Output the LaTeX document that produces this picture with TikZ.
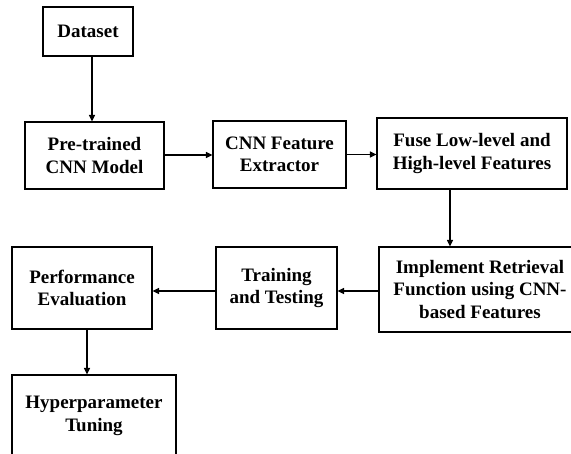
\documentclass[tikz,border=0pt]{standalone}
\usepackage{fontspec}
\setmainfont{Liberation Serif}
\usepackage{tikz}
\usetikzlibrary{arrows.meta}

\begin{document}
\begin{tikzpicture}[
      x=1pt, y=-1pt,
      mybox/.style={
         rectangle,
         draw=black,
         line width=1.2pt,
         fill=white,
         align=center,
         inner sep=0pt,
         font=\fontsize{19}{22.5}\selectfont\bfseries},
      myarrow/.style={-{Triangle[length=6.5pt,width=6pt]}, line width=1.2pt}
      ]
      \useasboundingbox (0,0) rectangle (571,454);

      \node[mybox, minimum width=90pt,  minimum height=49pt] at (88, 31.5) (data) {Dataset};
      \node[mybox, minimum width=139pt, minimum height=67pt] at (94.5, 155.5) (pre) {Pre-trained\\CNN Model};
      \node[mybox, minimum width=133pt, minimum height=67pt] at (279.5, 154.5) (cnn) {CNN Feature\\Extractor};
      \node[mybox, minimum width=190pt, minimum height=71pt] at (472, 153.5) (fuse) {Fuse Low-level and\\High-level Features};
      \node[mybox, minimum width=202pt, minimum height=85pt] at (480, 289.5) (impl) {Implement Retrieval\\Function using CNN-\\based Features};
      \node[mybox, minimum width=121pt, minimum height=82pt] at (276.5, 288) (train) {Training\\and Testing};
      \node[mybox, minimum width=140pt, minimum height=82pt] at (82, 288) (perf) {Performance\\Evaluation};
      \node[mybox, minimum width=164pt, minimum height=82pt] at (94, 416) (hyper) {Hyperparameter\\Tuning};

    % horizontal arrows: start/end/vertical shift
    \foreach \i/\j/\dy in {pre.east/cnn.west/0.5, cnn.east/fuse.west/0,
                       impl.west/train.east/-1.5, train.west/perf.east/-3}
       \draw [myarrow] ([yshift=\dy]\i) -- ([yshift=\dy]\i -| \j);

    % vertical arrows: start/end/horizontal shift
    \foreach \i/\j/\dx in {data.south/pre.north/4, fuse.south/impl.north/-22,
                       perf.south/hyper.north/5}
       \draw [myarrow] ([xshift=\dx]\i) -- ([xshift=\dx]\i |- \j);

    \end{tikzpicture}
\end{document}
